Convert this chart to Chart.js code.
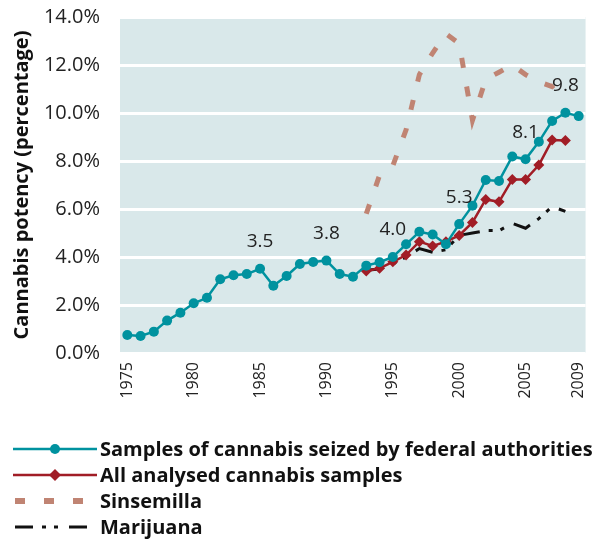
<!DOCTYPE html>
<html>
<head>
<meta charset="utf-8">
<script src="https://cdn.jsdelivr.net/npm/chart.js@4.4.1/dist/chart.umd.min.js"></script>
<style>
  html, body { margin: 0; padding: 0; background: #fff; }
  #wrap { width: 598px; height: 542px; }
</style>
</head>
<body>
<div id="wrap"><canvas id="potencyChart"></canvas></div>
<script>
const years = [1975, 1976, 1977, 1978, 1979, 1980, 1981, 1982, 1983, 1984,
               1985, 1986, 1987, 1988, 1989, 1990, 1991, 1992, 1993, 1994,
               1995, 1996, 1997, 1998, 1999, 2000, 2001, 2002, 2003, 2004,
               2005, 2006, 2007, 2008, 2009];

// potency in %, null where no sample
const seized = [0.75, 0.71, 0.89, 1.35, 1.68, 2.07, 2.30, 3.07, 3.24, 3.29,
                3.51, 2.80, 3.21, 3.71, 3.79, 3.85, 3.29, 3.18, 3.64, 3.78,
                4.00, 4.53, 5.05, 4.94, 4.53, 5.37, 6.14, 7.21, 7.17, 8.19,
                8.07, 8.80, 9.67, 10.01, 9.87];
const analysed = [null, null, null, null, null, null, null, null, null, null,
                  null, null, null, null, null, null, null, null, 3.42, 3.53,
                  3.80, 4.08, 4.64, 4.46, 4.64, 4.90, 5.44, 6.40, 6.30, 7.23,
                  7.23, 7.83, 8.87, 8.85, null];
const sinsemilla = [null, null, null, null, null, null, null, null, null, null,
                    null, null, null, null, null, null, null, null, 5.8, 7.4,
                    7.8, 9.3, 11.6, 12.5, 13.3, 12.9, 9.7, 11.4, 11.7, 12.0,
                    11.6, 11.3, 11.1, 11.6, null];
const marijuana = [null, null, null, null, null, null, null, null, null, null,
                   null, null, null, null, null, null, null, null, 3.45, 3.5,
                   3.7, 4.0, 4.35, 4.2, 4.3, 4.9, 5.0, 5.1, 5.1, 5.4,
                   5.2, 5.6, 6.1, 5.9, null];

const xTicks = [1975, 1980, 1985, 1990, 1995, 2000, 2005, 2009];
const yTicks = [0, 2, 4, 6, 8, 10, 12, 14];

const labelYears = [1985, 1990, 1995, 2000, 2005, 2008];
const labelTexts = ['3.5', '3.8', '4.0', '5.3', '8.1', '9.8'];

const FONT = "'Open Sans', 'Noto Sans', sans-serif";

function toPoints(vals) {
  return years.map((yr, i) => ({ x: yr, y: vals[i] })).filter(p => p.y !== null);
}

const plotBackground = {
  id: 'plotBackground',
  beforeDraw(chart) {
    const a = chart.chartArea;
    const ctx = chart.ctx;
    ctx.save();
    ctx.fillStyle = '#d9e8ea';
    ctx.fillRect(a.left, a.top, a.right - a.left, a.bottom - a.top);
    ctx.restore();
  }
};

const valueLabels = {
  id: 'valueLabels',
  afterDatasetsDraw(chart) {
    const ctx = chart.ctx;
    ctx.save();
    ctx.font = '19px ' + FONT;
    ctx.fillStyle = '#222';
    ctx.textAlign = 'center';
    ctx.textBaseline = 'middle';
    labelYears.forEach((yr, i) => {
      const v = seized[years.indexOf(yr)];
      const px = chart.scales.x.getPixelForValue(yr);
      const py = chart.scales.y.getPixelForValue(v) - 27;
      ctx.fillText(labelTexts[i], px, py);
    });
    ctx.restore();
  }
};

// one legend row per dataset, line sample + marker on the left
const legendRows = {
  id: 'legendRows',
  afterDraw(chart) {
    const ctx = chart.ctx;
    ctx.save();
    chart.data.datasets.forEach((ds, i) => {
      const y = 449 + i * 26;
      const dashed = ds.borderDash && ds.borderDash.length;
      const x0 = dashed ? 15 : 13;
      const x1 = dashed ? 90 : 97;
      ctx.beginPath();
      ctx.setLineDash(ds.borderDash || []);
      ctx.lineWidth = ds.legendWidth || ds.borderWidth;
      ctx.strokeStyle = ds.borderColor;
      ctx.moveTo(x0, y);
      ctx.lineTo(x1, y);
      ctx.stroke();
      ctx.setLineDash([]);
      ctx.fillStyle = ds.borderColor;
      if (ds.pointStyle === 'circle' && ds.pointRadius) {
        ctx.beginPath();
        ctx.arc(55, y, 5, 0, Math.PI * 2);
        ctx.fill();
      } else if (ds.pointStyle === 'rectRot' && ds.pointRadius) {
        ctx.beginPath();
        ctx.moveTo(55, y - 6);
        ctx.lineTo(61, y);
        ctx.lineTo(55, y + 6);
        ctx.lineTo(49, y);
        ctx.closePath();
        ctx.fill();
      }
      ctx.font = 'bold 20px ' + FONT;
      ctx.fillStyle = '#111';
      ctx.textAlign = 'left';
      ctx.textBaseline = 'middle';
      ctx.fillText(ds.label, 100, y + 1);
    });
    ctx.restore();
  }
};

new Chart(document.getElementById('potencyChart'), {
  type: 'line',
  data: {
    datasets: [
      {
        label: 'Samples of cannabis seized by federal authorities',
        data: toPoints(seized),
        borderColor: '#00929f',
        backgroundColor: '#00929f',
        borderWidth: 2.5,
        pointStyle: 'circle',
        pointRadius: 5,
        pointBorderWidth: 0
      },
      {
        label: 'All analysed cannabis samples',
        data: toPoints(analysed),
        borderColor: '#a11d26',
        backgroundColor: '#a11d26',
        borderWidth: 2.5,
        pointStyle: 'rectRot',
        pointRadius: 5.5,
        pointBorderWidth: 0
      },
      {
        label: 'Sinsemilla',
        data: toPoints(sinsemilla),
        borderColor: '#c08473',
        borderWidth: 5,
        legendWidth: 6,
        borderDash: [10, 19],
        borderCapStyle: 'butt',
        pointRadius: 0
      },
      {
        label: 'Marijuana',
        data: toPoints(marijuana),
        borderColor: '#111',
        borderWidth: 3,
        borderDash: [18, 9, 4, 8, 4, 11],
        pointRadius: 0
      }
    ]
  },
  options: {
    responsive: true,
    maintainAspectRatio: false,
    animation: false,
    layout: { padding: { top: 17, right: 9, bottom: 139, left: 0 } },
    plugins: {
      legend: { display: false },
      tooltip: { enabled: false }
    },
    scales: {
      x: {
        type: 'linear',
        min: 1974.45,
        max: 2009.52,
        afterBuildTicks: s => { s.ticks = xTicks.map(v => ({ value: v })); },
        afterFit: s => { s.height = 50; },
        // invisible grid, tick marks only used as label spacing
        grid: { color: 'transparent', drawOnChartArea: false, tickLength: 9, tickColor: 'transparent' },
        border: { display: false },
        ticks: {
          minRotation: 90,
          maxRotation: 90,
          padding: 0,
          color: '#222',
          font: { family: FONT, size: 16 },
          callback: v => String(v)
        }
      },
      y: {
        min: 0,
        max: 14,
        afterBuildTicks: s => { s.ticks = yTicks.map(v => ({ value: v })); },
        afterFit: s => { s.width = 120; },
        grid: { color: '#fff', lineWidth: 3, tickLength: 20, tickColor: 'transparent' },
        border: { display: false },
        title: {
          display: true,
          text: 'Cannabis potency (percentage)',
          color: '#111',
          padding: { top: 10, bottom: 0 },
          font: { family: FONT, size: 20, weight: 'bold' }
        },
        ticks: {
          padding: 0,
          color: '#222',
          font: { family: FONT, size: 20 },
          callback: v => v.toFixed(1) + '%'
        }
      }
    }
  },
  plugins: [plotBackground, valueLabels, legendRows]
});
</script>
</body>
</html>
